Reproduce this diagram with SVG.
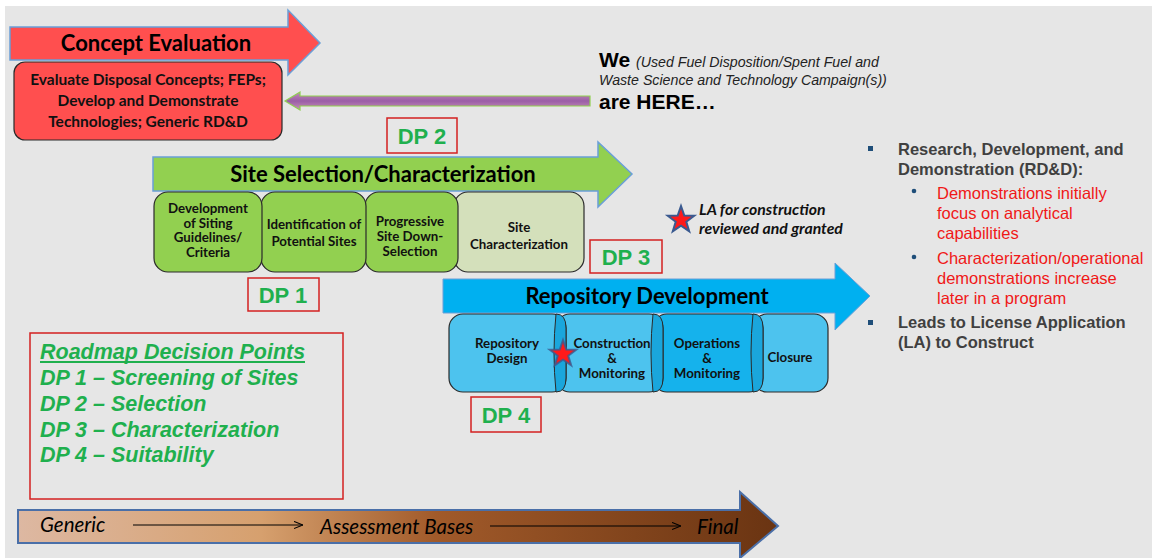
<svg xmlns="http://www.w3.org/2000/svg" width="1152" height="558" viewBox="0 0 1152 558">
<defs>
<linearGradient id="gPurple" x1="0" y1="0" x2="0" y2="1">
<stop offset="0" stop-color="#c48ab8"/><stop offset="0.5" stop-color="#9a5ea6"/><stop offset="1" stop-color="#c890b8"/>
</linearGradient>
<linearGradient id="gBrown" x1="0" y1="0" x2="1" y2="0">
<stop offset="0" stop-color="#ddb8a2"/><stop offset="0.32" stop-color="#d6a06e"/><stop offset="0.55" stop-color="#a15a2a"/><stop offset="1" stop-color="#6a3412"/>
</linearGradient>
<marker id="ah" viewBox="0 0 10 10" refX="10" refY="5" markerWidth="9" markerHeight="9" markerUnits="userSpaceOnUse" orient="auto">
<path d="M0,1 L10,5 L0,9" fill="none" stroke="#000" stroke-width="1.2"/>
</marker>
<style>
.hdr{font-family:Lato,"Open Sans",sans-serif;font-weight:bold;font-size:22px;fill:#000;text-anchor:middle}
.bx{font-family:Lato,"Open Sans",sans-serif;font-weight:bold;font-size:13.3px;fill:#111;text-anchor:middle}
.cb{font-family:Lato,"Open Sans",sans-serif;font-weight:bold;font-size:15.5px;fill:#111;text-anchor:middle}
.dpb{fill:none;stroke:#d42020;stroke-width:1.5}
.dpt{font-family:"Liberation Sans",Arial,sans-serif;font-weight:bold;font-size:22px;fill:#1fb04e;text-anchor:middle}
.leg{font-family:"Liberation Sans",Arial,sans-serif;font-weight:bold;font-style:italic;font-size:21.5px;fill:#1fb04e}
.rt{font-family:"Liberation Sans",Arial,sans-serif;font-weight:bold;font-size:16.5px;fill:#404040}
.rr{font-family:"Liberation Sans",Arial,sans-serif;font-size:16.5px;fill:#f01818}
.gbox{fill:#92d050;stroke:#2a2a2a;stroke-width:1.2}
.bbox{fill:#4dc3ee;stroke:#2a2a2a;stroke-width:1.2}
.bt{font-family:Lato,"Open Sans",sans-serif;font-style:italic;font-size:20.5px;fill:#000}
</style>
</defs>
<rect x="0" y="0" width="1152" height="558" fill="#ffffff"/>
<rect x="5" y="6" width="1147" height="552" fill="#e6e6e6"/>

<g id="concept-arrow">
<path d="M10,27 L288,27 L288,10 L320,43 L288,75 L288,60 L10,60 Z" fill="#ff4f4f" stroke="#6a9fd8" stroke-width="1.5"/>
<text class="hdr" x="156" y="51">Concept Evaluation</text>
</g>
<g id="concept-box">
<rect x="14" y="62" width="268" height="78" rx="11" fill="#ff4f4f" stroke="#2a2a2a" stroke-width="1.2"/>
<text class="cb" x="148" y="85">Evaluate Disposal Concepts; FEPs;</text>
<text class="cb" x="148" y="106">Develop and Demonstrate</text>
<text class="cb" x="148" y="127">Technologies; Generic RD&amp;D</text>
</g>

<g id="connectors">
<path d="M590,96 L300,96 L300,92 L285,101 L300,110 L300,106 L590,106 Z" fill="url(#gPurple)" stroke="#8fcf4f" stroke-width="1.2"/>
</g>

<g id="we-here">
<text x="599" y="67" font-family="Liberation Sans,Arial,sans-serif" font-weight="bold" font-size="21" fill="#000">We <tspan font-weight="normal" font-style="italic" font-size="14.2" fill="#222">(Used Fuel Disposition/Spent Fuel and</tspan></text>
<text x="599" y="85" font-family="Liberation Sans,Arial,sans-serif" font-style="italic" font-size="14.2" fill="#222">Waste Science and Technology Campaign(s))</text>
<text x="599" y="109" font-family="Liberation Sans,Arial,sans-serif" font-weight="bold" font-size="21" fill="#000">are HERE…</text>
</g>

<g id="dp2"><rect class="dpb" x="387" y="118" width="70" height="35"/><text class="dpt" x="422" y="144">DP 2</text></g>

<g id="site-arrow">
<path d="M153,157 L598,157 L598,142 L632,174 L598,207 L598,191 L153,191 Z" fill="#92d050" stroke="#6a9fd8" stroke-width="1.5"/>
<text class="hdr" x="383" y="182">Site Selection/Characterization</text>
</g>
<g id="site-boxes">
<rect class="gbox" x="454" y="192" width="130" height="80" rx="14" style="fill:#d4e0bb"/>
<rect class="gbox" x="365" y="192" width="93" height="80" rx="14"/>
<rect class="gbox" x="261" y="192" width="105" height="80" rx="14"/>
<rect class="gbox" x="154" y="192" width="108" height="80" rx="14"/>
<text class="bx" x="208" y="213">Development</text>
<text class="bx" x="208" y="228">of Siting</text>
<text class="bx" x="208" y="242">Guidelines/</text>
<text class="bx" x="208" y="257">Criteria</text>
<text class="bx" x="314" y="229">Identification of</text>
<text class="bx" x="314" y="246">Potential Sites</text>
<text class="bx" x="410" y="226">Progressive</text>
<text class="bx" x="410" y="241">Site Down-</text>
<text class="bx" x="410" y="256">Selection</text>
<text class="bx" x="519" y="232">Site</text>
<text class="bx" x="519" y="249">Characterization</text>
</g>

<g id="la-note">
<polygon points="681,206 684.3,215.5 694.3,215.7 686.3,221.8 689.2,231.3 681,225.6 672.8,231.3 675.7,221.8 667.7,215.7 677.7,215.5" fill="#ff1a1a" stroke="#3a5a90" stroke-width="2"/>
<text x="699" y="215" font-family="Lato,'Open Sans',sans-serif" font-weight="bold" font-style="italic" font-size="15.8" fill="#111">LA for construction</text>
<text x="699" y="234" font-family="Lato,'Open Sans',sans-serif" font-weight="bold" font-style="italic" font-size="15.8" fill="#111">reviewed and granted</text>
</g>

<g id="dp3"><rect class="dpb" x="590" y="240" width="72" height="33"/><text class="dpt" x="626" y="265">DP 3</text></g>
<g id="dp1"><rect class="dpb" x="248" y="278" width="71" height="33"/><text class="dpt" x="283" y="303">DP 1</text></g>

<g id="repo-arrow">
<path d="M443,279 L835,279 L835,263 L870,296 L835,330 L835,313 L443,313 Z" fill="#00b0f0" stroke="#6a9fd8" stroke-width="1"/>
<text class="hdr" x="647" y="304">Repository Development</text>
</g>
<g id="repo-boxes">
<rect class="bbox" x="753" y="314" width="75" height="78" rx="14"/>
<rect class="bbox" x="653" y="314" width="110" height="78" rx="14" style="fill:#15b2ec"/>
<rect class="bbox" x="556" y="314" width="107" height="78" rx="14"/>
<rect class="bbox" x="449" y="314" width="117" height="78" rx="14"/>
<path d="M566,328 L566,378 Q566,392 556,392 Q552,353 556,314 Q566,314 566,328 Z" fill="#1aa6dc" stroke="#2a2a2a" stroke-width="1"/>
<path d="M663,328 L663,378 Q663,392 653,392 Q649,353 653,314 Q663,314 663,328 Z" fill="#1aa6dc" stroke="#2a2a2a" stroke-width="1"/>
<path d="M763,328 L763,378 Q763,392 753,392 Q749,353 753,314 Q763,314 763,328 Z" fill="#1aa6dc" stroke="#2a2a2a" stroke-width="1"/>
<text class="bx" x="507" y="348">Repository</text>
<text class="bx" x="507" y="363">Design</text>
<text class="bx" x="612" y="348">Construction</text>
<text class="bx" x="612" y="363">&amp;</text>
<text class="bx" x="612" y="378">Monitoring</text>
<text class="bx" x="707" y="348">Operations</text>
<text class="bx" x="707" y="363">&amp;</text>
<text class="bx" x="707" y="378">Monitoring</text>
<text class="bx" x="790" y="362">Closure</text>
<polygon points="563,340 566.3,349.5 576.3,349.7 568.3,355.8 571.2,365.3 563,359.6 554.8,365.3 557.7,355.8 549.7,349.7 559.7,349.5" fill="#ff1a1a" stroke="#3a5a90" stroke-width="2" stroke-opacity="0.8"/>
</g>

<g id="dp4"><rect class="dpb" x="471" y="397" width="70" height="35"/><text class="dpt" x="506" y="423">DP 4</text></g>

<g id="legend">
<rect x="30" y="333" width="313" height="166" fill="none" stroke="#d42020" stroke-width="1.5"/>
<text class="leg" x="40" y="359">Roadmap Decision Points</text>
<line x1="40" y1="362" x2="305" y2="362" stroke="#1fb04e" stroke-width="2"/>
<text class="leg" x="40" y="385">DP 1 – Screening of Sites</text>
<text class="leg" x="40" y="411">DP 2 – Selection</text>
<text class="leg" x="40" y="437">DP 3 – Characterization</text>
<text class="leg" x="40" y="462">DP 4 – Suitability</text>
</g>

<g id="rdd-notes">
<rect x="868" y="146" width="5" height="5" fill="#1f4e79"/>
<text class="rt" x="898" y="155">Research, Development, and</text>
<text class="rt" x="898" y="175">Demonstration (RD&amp;D):</text>
<circle cx="914" cy="191" r="2.3" fill="#1f4e79"/>
<text class="rr" x="937" y="199">Demonstrations initially</text>
<text class="rr" x="937" y="219">focus on analytical</text>
<text class="rr" x="937" y="239">capabilities</text>
<circle cx="914" cy="257" r="2.3" fill="#1f4e79"/>
<text class="rr" x="937" y="264">Characterization/operational</text>
<text class="rr" x="937" y="284">demonstrations increase</text>
<text class="rr" x="937" y="304">later in a program</text>
<rect x="868" y="320" width="5" height="5" fill="#1f4e79"/>
<text class="rt" x="898" y="328">Leads to License Application</text>
<text class="rt" x="898" y="348">(LA) to Construct</text>
</g>

<g id="bases-arrow">
<path d="M18,510 L740,510 L740,492 L778,526 L740,558 L740,543 L18,543 Z" fill="url(#gBrown)" stroke="#4a6fa8" stroke-width="2"/>
<text class="bt" x="40" y="532">Generic</text>
<line x1="133" y1="525" x2="303" y2="525" stroke="#000" stroke-width="1" marker-end="url(#ah)"/>
<text class="bt" x="320" y="534">Assessment Bases</text>
<line x1="490" y1="526" x2="681" y2="526" stroke="#000" stroke-width="1" marker-end="url(#ah)"/>
<text class="bt" x="697" y="534">Final</text>
</g>
</svg>
